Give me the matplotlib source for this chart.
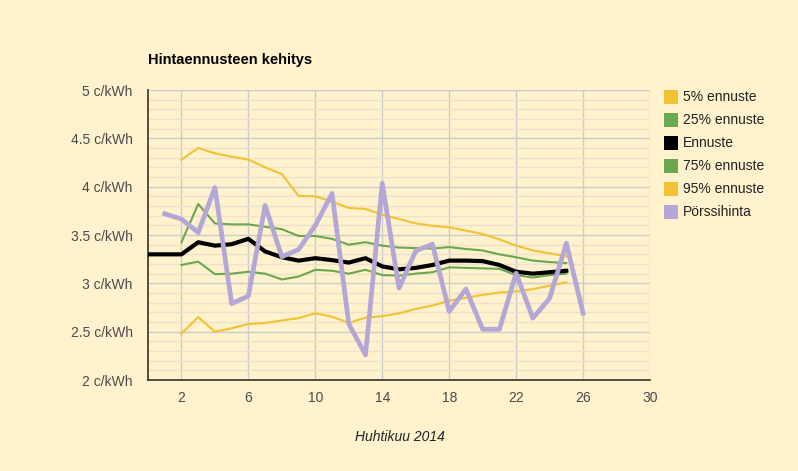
import matplotlib
matplotlib.use("Agg")
import matplotlib.pyplot as plt
from matplotlib.patches import Rectangle
from matplotlib.ticker import MultipleLocator

plt.rcParams['font.family'] = ['Liberation Sans', 'DejaVu Sans']

days_fc = list(range(2, 26))
days_black = [0, 1] + days_fc
days_spot = list(range(1, 27))

p5 = [2.48, 2.65, 2.50, 2.535, 2.58, 2.59, 2.615, 2.64, 2.69, 2.655, 2.59, 2.645, 2.66,
      2.69, 2.735, 2.77, 2.82, 2.85, 2.88, 2.905, 2.915, 2.94, 2.975, 3.01]
p25 = [3.19, 3.225, 3.095, 3.10, 3.12, 3.10, 3.04, 3.07, 3.14, 3.13, 3.10, 3.14, 3.085,
       3.08, 3.10, 3.115, 3.165, 3.16, 3.155, 3.15, 3.085, 3.06, 3.085, 3.10]
ennuste = [3.30, 3.30, 3.30, 3.425, 3.39, 3.405, 3.46, 3.33, 3.27, 3.235, 3.26, 3.24, 3.215,
           3.26, 3.175, 3.145, 3.16, 3.19, 3.235, 3.235, 3.23, 3.19, 3.12, 3.10, 3.115, 3.13]
p75 = [3.425, 3.82, 3.62, 3.61, 3.61, 3.585, 3.56, 3.49, 3.49, 3.46, 3.40, 3.425, 3.39,
       3.37, 3.365, 3.36, 3.375, 3.355, 3.34, 3.30, 3.27, 3.235, 3.22, 3.21]
p95 = [4.28, 4.40, 4.345, 4.31, 4.28, 4.20, 4.13, 3.905, 3.90, 3.845, 3.78, 3.77, 3.71,
       3.665, 3.62, 3.595, 3.58, 3.545, 3.51, 3.455, 3.39, 3.34, 3.31, 3.28]
porssi = [3.72, 3.665, 3.525, 3.99, 2.79, 2.87, 3.805, 3.275, 3.35, 3.60, 3.93, 2.58, 2.26,
          4.035, 2.95, 3.335, 3.405, 2.71, 2.94, 2.525, 2.525, 3.105, 2.64, 2.845, 3.415, 2.69]

labels = ['5% ennuste', '25% ennuste', 'Ennuste', '75% ennuste', '95% ennuste', 'Pörssihinta']
colors = ['#F1C232', '#6AA84F', '#000000', '#6AA84F', '#F1C232', '#B4A7D6']
title = 'Hintaennusteen kehitys'
xlabel = 'Huhtikuu 2014'
xticks = [2, 6, 10, 14, 18, 22, 26, 30]
yticks = [2, 2.5, 3, 3.5, 4, 4.5, 5]

bg = '#FFF2CC'
W, H = 798, 471
fig = plt.figure(figsize=(W / 100, H / 100), dpi=100, facecolor=bg)
ax = fig.add_axes([148 / W, 1 - 380 / H, 502 / W, 290 / H], facecolor=bg)

ax.set_xlim(0, 30)
ax.set_ylim(2, 5)
ax.set_xticks(xticks)
ax.set_xticklabels([str(t) for t in xticks])
ax.set_yticks(yticks)
ax.set_yticklabels([f'{t:g} c/kWh' for t in yticks])
ax.yaxis.set_minor_locator(MultipleLocator(0.1))
ax.grid(True, which='major', color='#CACACF', linewidth=1.0, zorder=0)
ax.grid(True, which='minor', axis='y', color='#EAE2CC', linewidth=1.0, zorder=0)
ax.set_axisbelow(True)
ax.tick_params(which='both', length=0, labelsize=10, colors='#4A4A4A')
ax.tick_params(axis='y', pad=11)
ax.tick_params(axis='x', pad=8)
for s in ['top', 'right']:
    ax.spines[s].set_visible(False)
for s in ['left', 'bottom']:
    ax.spines[s].set_color('#333333')
    ax.spines[s].set_linewidth(1.2)

ax.plot(days_fc, p5, color=colors[0], lw=1.5, zorder=3)
ax.plot(days_fc, p25, color=colors[1], lw=1.5, zorder=3)
ax.plot(days_fc, p75, color=colors[3], lw=1.5, zorder=3)
ax.plot(days_fc, p95, color=colors[4], lw=1.5, zorder=3)
ax.plot(days_black, ennuste, color=colors[2], lw=3.0, zorder=4, solid_joinstyle='round')
ax.plot(days_spot, porssi, color=colors[5], lw=3.4, zorder=5)

fig.text(148 / W, 1 - 60 / H, title, fontsize=10.5, fontweight='bold', color='#000000',
         ha='left', va='center')
fig.text(400 / W, 1 - 437 / H, xlabel, fontsize=10, fontstyle='italic', color='#222222',
         ha='center', va='center')

for i, (lab, col) in enumerate(zip(labels, colors)):
    yc = 97 + 23 * i
    fig.patches.append(Rectangle((664 / W, 1 - (yc + 7) / H), 14 / W, 14 / H,
                                 transform=fig.transFigure, facecolor=col,
                                 edgecolor='none'))
    fig.text(683 / W, 1 - yc / H, lab, fontsize=10, color='#222222', ha='left',
             va='center')

fig.savefig('out.png', dpi=100, facecolor=bg)
